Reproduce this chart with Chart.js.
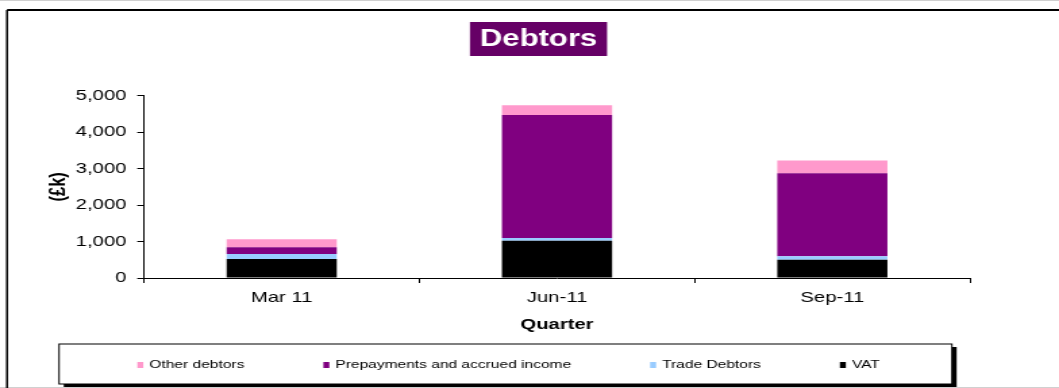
<!DOCTYPE html>
<html>
<head>
<meta charset="utf-8">
<title>Debtors</title>
<script src="https://cdn.jsdelivr.net/npm/chart.js@4/dist/chart.umd.min.js"></script>
<style>
  html, body { margin: 0; padding: 0; background: #ffffff; overflow: hidden; }
  /* the chart is laid out on a narrower canvas and widened horizontally */
  #wrap { width: 784px; height: 388px; transform: scaleX(1.3508); transform-origin: 0 0; }
  canvas { display: block; }
</style>
</head>
<body>
<div id="wrap"><canvas id="debtors" width="784" height="388"></canvas></div>
<script>
// Quarter-end debtor balances, £k
const quarters = ['Mar 11', 'Jun-11', 'Sep-11'];
const vat = [520, 1020, 500];
const tradeDebtors = [135, 75, 95];
const prepayments = [185, 3375, 2275];
const otherDebtors = [220, 265, 355];
const yTicks = [0, 1000, 2000, 3000, 4000, 5000];

const seriesNames = ['VAT', 'Trade Debtors', 'Prepayments and accrued income', 'Other debtors'];
const seriesColors = ['#000000', '#99CCFF', '#800080', '#FF99CC'];

const FONT = '"Liberation Sans", Arial, Helvetica, sans-serif';

// Frame, heading badge and boxed legend
const decor = {
  id: 'decor',
  beforeDraw(chart) {
    const ctx = chart.ctx;
    const W = chart.width, H = chart.height;
    ctx.save();
    ctx.fillStyle = '#ffffff';
    ctx.fillRect(0, 0, W, H);

    // faint page rules
    ctx.strokeStyle = '#d0d0d0';
    ctx.lineWidth = 1;
    ctx.beginPath();
    ctx.moveTo(0, 0.5); ctx.lineTo(W, 0.5);
    ctx.moveTo(0, 387.5); ctx.lineTo(W, 387.5);
    ctx.stroke();

    // outer frame (top and left edges)
    ctx.strokeStyle = '#000000';
    ctx.lineWidth = 2;
    ctx.beginPath();
    ctx.moveTo(5.2, 10); ctx.lineTo(W, 10);
    ctx.stroke();
    ctx.lineWidth = 1.5;
    ctx.beginPath();
    ctx.moveTo(5.2, 10); ctx.lineTo(5.2, H);
    ctx.stroke();

    // heading badge
    ctx.fillStyle = '#660066';
    ctx.fillRect(347.9, 22, 101.5, 34);
    ctx.fillStyle = '#ffffff';
    ctx.font = 'bold 23px ' + FONT;
    ctx.textAlign = 'center';
    ctx.textBaseline = 'middle';
    ctx.fillText('Debtors', 398.7, 40);

    // legend box with drop shadow
    const bx = 43.7, by = 344, bw = 661, bh = 40;
    ctx.fillStyle = '#000000';
    ctx.fillRect(bx + 3.5, by + 3, bw, bh);
    ctx.fillStyle = '#ffffff';
    ctx.fillRect(bx, by, bw, bh);
    ctx.strokeStyle = '#000000';
    ctx.lineWidth = 1;
    ctx.strokeRect(bx, by, bw, bh);

    // legend entries, top series first
    const items = chart.data.datasets.map(d => ({ text: d.label, color: d.backgroundColor })).reverse();
    ctx.font = '11.5px ' + FONT;
    ctx.textAlign = 'left';
    ctx.textBaseline = 'middle';
    const sqW = 4.4, sqH = 6, textGap = 8.9, itemGap = 58.5, cy = 365;
    const widths = items.map(it => textGap + ctx.measureText(it.text).width);
    const total = widths.reduce((a, b) => a + b, 0) + itemGap * (items.length - 1);
    let x = 376.5 - total / 2;
    items.forEach((it, i) => {
      ctx.fillStyle = it.color;
      ctx.fillRect(x, cy - sqH / 2, sqW, sqH);
      ctx.fillStyle = '#000000';
      ctx.fillText(it.text, x + textGap, cy);
      x += widths[i] + itemGap;
    });
    ctx.restore();
  }
};

new Chart(document.getElementById('debtors'), {
  type: 'bar',
  data: {
    labels: quarters,
    datasets: [
      { label: seriesNames[0], data: vat, backgroundColor: seriesColors[0] },
      { label: seriesNames[1], data: tradeDebtors, backgroundColor: seriesColors[1] },
      { label: seriesNames[2], data: prepayments, backgroundColor: seriesColors[2] },
      { label: seriesNames[3], data: otherDebtors, backgroundColor: seriesColors[3] }
    ]
  },
  options: {
    responsive: false,
    animation: false,
    devicePixelRatio: 1,
    layout: { padding: { left: 33.9, right: 65.9, top: 95.7, bottom: 54 } },
    datasets: { bar: { barPercentage: 0.4, categoryPercentage: 1.0 } },
    plugins: {
      legend: { display: false },
      title: { display: false },
      tooltip: { enabled: false }
    },
    scales: {
      x: {
        stacked: true,
        grid: { offset: true, drawOnChartArea: false, drawTicks: true, tickLength: 5, color: '#000000', lineWidth: 1 },
        border: { display: true, color: '#000000', width: 1 },
        ticks: { color: '#000000', padding: 6, font: { family: FONT, size: 15 } },
        title: { display: true, text: 'Quarter', color: '#000000', padding: 0, font: { family: FONT, size: 15, weight: 'bold' } },
        afterFit: s => { s.height = 56; }
      },
      y: {
        stacked: true,
        min: 0,
        max: 5000,
        afterBuildTicks: s => { s.ticks = yTicks.map(v => ({ value: v })); },
        grid: { drawOnChartArea: false, drawTicks: true, tickLength: 5, color: '#000000', lineWidth: 1 },
        border: { display: true, color: '#000000', width: 1 },
        ticks: { color: '#000000', padding: 8, font: { family: FONT, size: 15 }, callback: v => v.toLocaleString('en-US') },
        title: { display: true, text: '(£k)', color: '#000000', padding: 0, font: { family: FONT, size: 16.5, weight: 'bold' } },
        afterFit: s => { s.width = 72.7; }
      }
    }
  },
  plugins: [decor]
});
</script>
</body>
</html>
